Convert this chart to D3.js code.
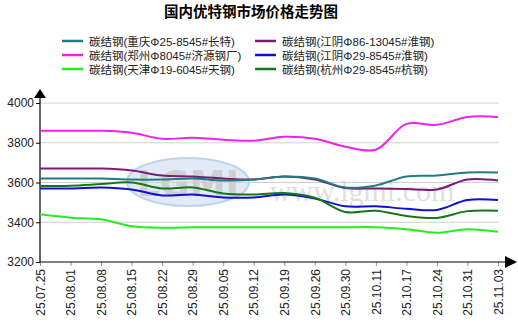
<!DOCTYPE html>
<html>
<head>
<meta charset="utf-8">
<script src="https://cdn.jsdelivr.net/npm/d3@7"></script>
<style>
  html, body { margin: 0; padding: 0; background: #fff; }
  svg { display: block; }
  text { font-family: "Liberation Sans", Arial, "Noto Sans CJK SC", sans-serif; }
</style>
</head>
<body>
<svg id="chart" width="518" height="336"></svg>
<script>
// Weekly dates (category axis)
const dates = ["25.07.25","25.08.01","25.08.08","25.08.15","25.08.22","25.08.29","25.09.05","25.09.12",
               "25.09.19","25.09.26","25.09.30","25.10.11","25.10.17","25.10.24","25.10.31","25.11.03"];

// Series names
const names = [
  "碳结钢(重庆Φ25-8545#长特)",
  "碳结钢(江阴Φ86-13045#淮钢)",
  "碳结钢(郑州Φ8045#济源钢厂)",
  "碳结钢(江阴Φ29-8545#淮钢)",
  "碳结钢(天津Φ19-6045#天钢)",
  "碳结钢(杭州Φ29-8545#杭钢)"
];

// Prices, yuan/ton
const chongqing = [3620,3620,3620,3615,3615,3620,3610,3615,3630,3620,3575,3585,3630,3635,3650,3650];
const jiangyin86 = [3670,3670,3670,3660,3635,3630,3620,3615,3630,3615,3572,3570,3567,3565,3615,3610];
const zhengzhou = [3860,3860,3860,3850,3820,3825,3815,3810,3830,3820,3780,3765,3895,3890,3930,3930];
const jiangyin29 = [3570,3570,3575,3565,3535,3540,3525,3525,3540,3520,3480,3480,3468,3462,3512,3512];
const tianjin = [3440,3423,3415,3380,3372,3375,3375,3375,3375,3375,3375,3375,3365,3347,3365,3352];
const hangzhou = [3582,3584,3592,3600,3570,3575,3545,3540,3547,3523,3452,3458,3432,3422,3456,3458];

const yTicks = [3200,3400,3600,3800,4000];

const series = [
  {name: names[0], values: chongqing, color: "#1f7d82"},
  {name: names[1], values: jiangyin86, color: "#7a1a7a"},
  {name: names[2], values: zhengzhou, color: "#ee22ee"},
  {name: names[3], values: jiangyin29, color: "#1010d0"},
  {name: names[4], values: tianjin, color: "#22ee22"},
  {name: names[5], values: hangzhou, color: "#147814"}
];

const svg = d3.select("#chart");
const plotLeft = 40, plotRight = 498, plotTop = 103, plotBottom = 262;

const x = d3.scalePoint().domain(dates).range([plotLeft, plotRight]);
const y = d3.scaleLinear().domain([3200, 4000]).range([plotBottom, plotTop]);

// Title
svg.append("text")
  .attr("x", 251).attr("y", 17)
  .attr("text-anchor", "middle")
  .style("font-family", "'Noto Sans CJK SC', sans-serif")
  .style("font-size", "14.5px").style("font-weight", "bold")
  .attr("fill", "#000")
  .text("国内优特钢市场价格走势图");

// Legend (two columns, three rows)
const legendOrder = [0, 2, 4, 1, 3, 5];
legendOrder.forEach((si, k) => {
  const col = Math.floor(k / 3), row = k % 3;
  const lx = col === 0 ? 62 : 255;
  const ly = 41 + row * 14;
  const g = svg.append("g").attr("transform", `translate(${lx},${ly})`);
  g.append("line").attr("x1", 0).attr("x2", 21).attr("y1", 0).attr("y2", 0)
    .attr("stroke", series[si].color).attr("stroke-width", 2.5);
  g.append("text").attr("x", 27).attr("y", 4.5)
    .style("font-size", "11.5px").attr("fill", "#222")
    .text(series[si].name);
});

// Watermark logo
const wm = svg.append("g").attr("opacity", 0.55);
wm.append("ellipse").attr("cx", 188).attr("cy", 182).attr("rx", 61).attr("ry", 24)
  .attr("fill", "#c9d9ef").attr("stroke", "#8fb0dd").attr("stroke-width", 2);
wm.append("text").attr("x", 188).attr("y", 196).attr("text-anchor", "middle")
  .style("font-family", "'DejaVu Sans', sans-serif").style("font-size", "36px")
  .style("font-weight", "bold").attr("fill", "#a9a9a9")
  .text("LGMI");
wm.append("text").attr("x", 362).attr("y", 201).attr("text-anchor", "middle")
  .style("font-family", "'Liberation Serif', serif").style("font-size", "30px")
  .attr("fill", "#b8b8b8").attr("opacity", 0.8)
  .text("www.lgmi.com");

// Gridlines
svg.append("g").selectAll("line").data(yTicks.filter(t => t > 3200)).join("line")
  .attr("x1", plotLeft).attr("x2", plotRight + 1)
  .attr("y1", d => y(d)).attr("y2", d => y(d))
  .attr("stroke", "#d0d0d0").attr("stroke-width", 1);

// Y axis
const yAxis = d3.axisLeft(y).tickValues(yTicks).tickSize(4).tickPadding(2).tickFormat(d3.format("d"));
const yg = svg.append("g").attr("transform", `translate(${plotLeft},0)`).call(yAxis);
yg.select(".domain").remove();
yg.selectAll("text").style("font-size", "12px").attr("fill", "#222");
svg.append("line").attr("x1", plotLeft).attr("x2", plotLeft).attr("y1", plotBottom).attr("y2", 95)
  .attr("stroke", "#000").attr("stroke-width", 1.2);
svg.append("path").attr("d", `M${plotLeft},89 L${plotLeft - 6},98 L${plotLeft + 6},98 Z`).attr("fill", "#000");

// X axis
const xAxis = d3.axisBottom(x).tickSize(4).tickPadding(4);
const xg = svg.append("g").attr("transform", `translate(0,${plotBottom})`).call(xAxis);
xg.select(".domain").remove();
xg.selectAll(".tick line").attr("stroke", "#999");
xg.selectAll("text")
  .style("font-size", "12px").attr("fill", "#222")
  .attr("transform", "rotate(-90)")
  .attr("text-anchor", "end")
  .attr("x", -7).attr("y", 0).attr("dy", "0.35em");
svg.append("line").attr("x1", plotLeft).attr("x2", 508).attr("y1", plotBottom).attr("y2", plotBottom)
  .attr("stroke", "#000").attr("stroke-width", 1.2);
svg.append("path").attr("d", `M517,${plotBottom} L505,${plotBottom - 6} L505,${plotBottom + 6} Z`).attr("fill", "#000");

// Price lines
const line = d3.line()
  .x((d, i) => x(dates[i]))
  .y(d => y(d))
  .curve(d3.curveCatmullRom.alpha(0.5));

const drawOrder = [1, 0, 2, 3, 5, 4];
svg.append("g").selectAll("path").data(drawOrder.map(i => series[i])).join("path")
  .attr("d", d => line(d.values))
  .attr("fill", "none")
  .attr("stroke", d => d.color)
  .attr("stroke-width", 2);
</script>
</body>
</html>
